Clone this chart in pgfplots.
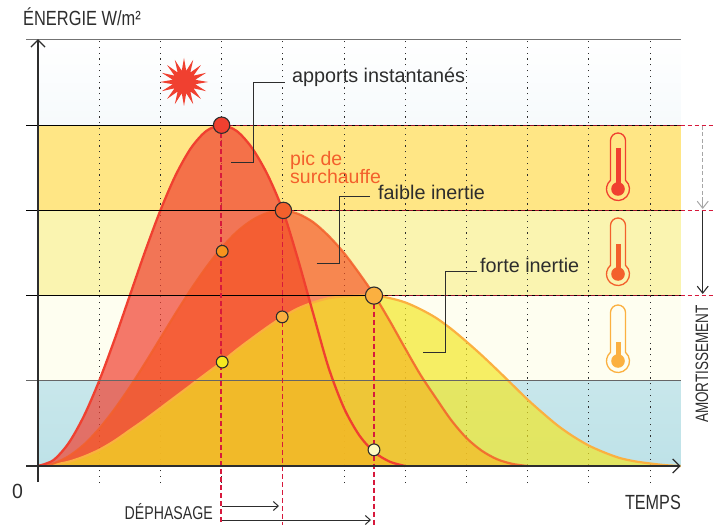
\documentclass[border=0pt]{standalone}
\usepackage{fontspec}
\setmainfont{Liberation Sans}
\usepackage{pgfplots}
\usepackage{pgfplotstable}
\pgfplotsset{compat=1.18}
\usetikzlibrary{arrows.meta,shapes.geometric}
\definecolor{cRed}{RGB}{240,64,48}
\definecolor{cOr}{RGB}{246,84,35}
\definecolor{cYe}{RGB}{243,231,35}
\definecolor{lOr}{RGB}{243,96,44}
\definecolor{lYe}{RGB}{251,176,64}
\definecolor{cDash}{RGB}{215,25,60}
\definecolor{ink}{RGB}{45,45,45}
\pgfplotstableread{
x y
0 0
0.25 0.068
0.5 0.268
0.75 0.586
1 1
1.25 1.482
1.5 2
1.75 2.518
2 3
2.25 3.414
2.5 3.732
2.75 3.932
3 4
3.25 3.93
3.5 3.73
3.75 3.42
4 3
4.25 2.42
4.5 1.78
4.75 1.15
5 0.68
5.25 0.36
5.5 0.16
5.75 0.05
6 0
}\rouge
\pgfplotstableread{
x y
0 0
0.25 0.029
0.5 0.114
0.75 0.251
1 0.439
1.25 0.667
1.5 0.926
1.75 1.207
2 1.5
2.25 1.793
2.5 2.074
2.75 2.333
3 2.561
3.25 2.749
3.5 2.886
3.75 2.971
4 3
4.25 2.96
4.5 2.86
4.75 2.7
5 2.5
5.25 2.26
5.5 2
5.75 1.7
6 1.38
6.25 1.07
6.5 0.8
6.75 0.54
7 0.33
7.25 0.18
7.5 0.08
7.75 0.025
8 0
}\faible
\pgfplotstableread{
x y
0 0
0.25 0.015
0.5 0.05
0.75 0.11
1 0.19
1.25 0.295
1.5 0.42
1.75 0.545
2 0.68
2.25 0.815
2.5 0.95
2.75 1.085
3 1.22
3.25 1.365
3.5 1.5
3.75 1.63
4 1.75
4.25 1.85
4.5 1.92
4.75 1.97
5 1.99
5.25 2
5.5 2
5.75 1.97
6 1.92
6.25 1.84
6.5 1.74
6.75 1.61
7 1.46
7.25 1.3
7.5 1.13
7.75 0.955
8 0.78
8.25 0.62
8.5 0.47
8.75 0.345
9 0.24
9.25 0.16
9.5 0.095
9.75 0.055
10 0.03
10.25 0.01
10.5 0
}\forte
\newcommand\thermo[6]{% x, top, bulb centre dist, column top dist, colour, unused
  \begin{scope}[shift={(#1,#2)}]
    \draw[#5,line width=1.3pt] (-7.5,47.3+#3-56) -- (-7.5,7.5) arc[start angle=180,end angle=360,radius=7.5] -- (7.5,47.3+#3-56) arc[start angle=-49.3,end angle=229.3,radius=11.5];
    \fill[#5] (-2.5,#4) rectangle (2.5,#3);
    \fill[#5] (0,#3) circle (6.8);
  \end{scope}}
\begin{document}
\begin{tikzpicture}
\path (0,0) rectangle (718pt,526pt);
\begin{axis}[at={(0,0)},anchor=south west,hide axis,clip=false,scale only axis,
  width=718pt,height=526pt,
  xmin=-0.62092,xmax=11.1111,ymin=-0.7042,ymax=5.4695]
% bandes
\addplot[draw=none,top color=white,bottom color={rgb,255:red,246;green,250;blue,252}] coordinates {(0,4)(10.5,4)(10.5,5.01)(0,5.01)} --cycle;
\addplot[draw=none,fill={rgb,255:red,255;green,230;blue,133}] coordinates {(0,3)(10.5,3)(10.5,4)(0,4)} --cycle;
\addplot[draw=none,fill={rgb,255:red,250;green,244;blue,176}] coordinates {(0,2)(10.5,2)(10.5,3)(0,3)} --cycle;
\addplot[draw=none,fill={rgb,255:red,254;green,254;blue,240}] coordinates {(0,1)(10.5,1)(10.5,2)(0,2)} --cycle;
\addplot[draw=none,top color={rgb,255:red,200;green,231;blue,235},bottom color={rgb,255:red,190;green,226;blue,232}] coordinates {(0,0)(10.5,0)(10.5,1)(0,1)} --cycle;
% pointilles
\pgfplotsinvokeforeach{1,...,10}{\addplot[ink,line width=1pt,dash pattern=on 1.2pt off 4.6pt] coordinates {(#1,-0.2)(#1,5.01)};}
% aires
\addplot[draw=none,fill=cRed,fill opacity=0.7,smooth] table {\rouge} \closedcycle;
\addplot[draw=none,fill=cOr,fill opacity=0.68,smooth] table {\faible} \closedcycle;
\addplot[draw=none,fill=cYe,fill opacity=0.68,smooth] table {\forte} \closedcycle;
% courbes
\addplot[lYe,line width=2.2pt,smooth] table {\forte};
\addplot[lOr,line width=2.2pt,smooth,opacity=0.85] table {\faible};
\addplot[cRed,line width=2.3pt,smooth] table {\rouge};
% lignes horizontales
\addplot[black!55,line width=1.1pt] coordinates {(-0.196,5.01)(10.5,5.01)};
\addplot[black,line width=1pt] coordinates {(-0.196,4)(10.5,4)};
\addplot[black,line width=1pt] coordinates {(-0.196,3)(10.5,3)};
\addplot[black,line width=1pt] coordinates {(-0.196,2)(10.5,2)};
\addplot[black!60,line width=1pt] coordinates {(-0.196,1)(10.5,1)};
% tirets rouges
\addplot[cDash,line width=0.9pt,dash pattern=on 4pt off 3pt,opacity=0.7] coordinates {(3,4)(10.5,4)};
\addplot[cDash,line width=0.9pt,dash pattern=on 4pt off 3pt,opacity=0.7] coordinates {(4,3)(10.5,3)};
\addplot[cDash,line width=0.9pt,dash pattern=on 4pt off 3pt,opacity=0.7] coordinates {(5.49,2)(10.5,2)};
\addplot[cDash,line width=1pt,dash pattern=on 4pt off 3pt] coordinates {(10.5,4)(11.04,4)};
\addplot[cDash,line width=1pt,dash pattern=on 4pt off 3pt] coordinates {(10.5,3)(11.04,3)};
\addplot[cDash,line width=1pt,dash pattern=on 4pt off 3pt] coordinates {(10.5,2)(11.04,2)};
\addplot[cDash,line width=1.1pt,dash pattern=on 5pt off 3pt] coordinates {(2.99,4)(2.99,-0.69)};
\addplot[cDash,line width=1.1pt,dash pattern=on 5pt off 3pt] coordinates {(4,3)(4,-0.69)};
\addplot[cDash,line width=1.1pt,dash pattern=on 5pt off 3pt] coordinates {(5.49,2)(5.49,-0.70)};
% axes
\addplot[ink,line width=2.6pt] coordinates {(-0.196,0)(10.45,0)};
\addplot[ink,line width=1.3pt,-{Straight Barb[length=7pt,width=14pt]}] coordinates {(10.3,0)(10.5,0)};
\addplot[ink,line width=2.6pt] coordinates {(0,-0.19)(0,4.95)};
\addplot[ink,line width=1.3pt,-{Straight Barb[length=7pt,width=14pt]}] coordinates {(0,4.8)(0,5.01)};
% points
\addplot[only marks,mark=*,mark size=8.2pt,mark options={fill=cRed,draw=ink,line width=1.1pt}] coordinates {(3,4)};
\addplot[only marks,mark=*,mark size=8.2pt,mark options={fill=lOr,draw=ink,line width=1.1pt}] coordinates {(4.01,3)};
\addplot[only marks,mark=*,mark size=8.6pt,mark options={fill=lYe,draw=ink,line width=1.1pt}] coordinates {(5.49,2)};
\addplot[only marks,mark=*,mark size=5.9pt,mark options={fill={rgb,255:red,247;green,148;blue,29},draw=ink,line width=1.1pt}] coordinates {(3.01,2.52)};
\addplot[only marks,mark=*,mark size=5.9pt,mark options={fill={rgb,255:red,245;green,234;blue,32},draw=ink,line width=1.1pt}] coordinates {(3.01,1.22)};
\addplot[only marks,mark=*,mark size=5.9pt,mark options={fill=lYe,draw=ink,line width=1.1pt}] coordinates {(3.99,1.75)};
\addplot[only marks,mark=*,mark size=5.9pt,mark options={fill={rgb,255:red,254;green,249;blue,192},draw=ink,line width=1.1pt}] coordinates {(5.49,0.19)};
\end{axis}
% decor en pixels
\begin{scope}[x=1pt,y=-1pt,yshift=526pt]
\node[star,star points=16,star point ratio=2.1,fill=cRed,inner sep=0pt,minimum size=48pt] at (184,82) {};
\draw[ink,line width=1pt] (231,163)--(253,163)--(253,83)--(285,83);
\draw[ink,line width=1pt] (316.5,264)--(339,264)--(339,197)--(370,197);
\draw[ink,line width=1pt] (423,352)--(445.3,352)--(445.3,272)--(477,272);
\node[anchor=base west,inner sep=0pt,text=ink,font=\fontsize{19.8}{22}\selectfont] at (292,83) {apports instantanés};
\node[anchor=base west,inner sep=0pt,text=ink,font=\fontsize{19.8}{22}\selectfont] at (378,199.5) {faible inertie};
\node[anchor=base west,inner sep=0pt,text=ink,font=\fontsize{19.8}{22}\selectfont] at (480,272.5) {forte inertie};
\node[anchor=base west,inner sep=0pt,text=lOr,font=\fontsize{19.5}{22}\selectfont] at (290,166) {pic de};
\node[anchor=base west,inner sep=0pt,text=lOr,font=\fontsize{19.5}{22}\selectfont] at (290,184) {surchauffe};
\node[anchor=base west,inner sep=0pt,text=ink,font=\fontsize{20.5}{22}\selectfont] at (23,26) {\scalebox{0.8}[1]{ÉNERGIE W/m²}};
\node[anchor=base west,inner sep=0pt,text=ink,font=\fontsize{20.5}{22}\selectfont] at (12,498) {\scalebox{0.95}[1]{0}};
\node[anchor=base east,inner sep=0pt,text=ink,font=\fontsize{20.5}{22}\selectfont] at (681,509.7) {\scalebox{0.79}[1]{TEMPS}};
\node[anchor=base east,inner sep=0pt,text=ink,font=\fontsize{18.5}{22}\selectfont] at (213,519.7) {\scalebox{0.765}[1]{DÉPHASAGE}};
\node[rotate=90,inner sep=0pt,text=ink,font=\fontsize{18}{20}\selectfont] at (702,364) {\scalebox{0.75}[1]{AMORTISSEMENT}};
\draw[ink,line width=1pt,-{Straight Barb[length=5pt,width=9pt]}] (222,506)--(279,506);
\draw[ink,line width=1pt,-{Straight Barb[length=5pt,width=9pt]}] (222,520)--(371,520);
\draw[black!35,line width=1pt,dash pattern=on 4pt off 2.5pt] (702.7,126)--(702.7,208);
\draw[black!35,line width=1pt,-{Straight Barb[length=7pt,width=11pt]}] (702.7,200)--(702.7,209);
\draw[ink,line width=1.1pt,-{Straight Barb[length=7pt,width=11pt]}] (702.7,211)--(702.7,294);
\thermo{618}{133}{56}{15}{cRed}{}
\thermo{618}{218}{56}{26}{lOr}{}
\thermo{618}{305}{56}{37}{lYe}{}
\end{scope}
\end{tikzpicture}
\end{document}
